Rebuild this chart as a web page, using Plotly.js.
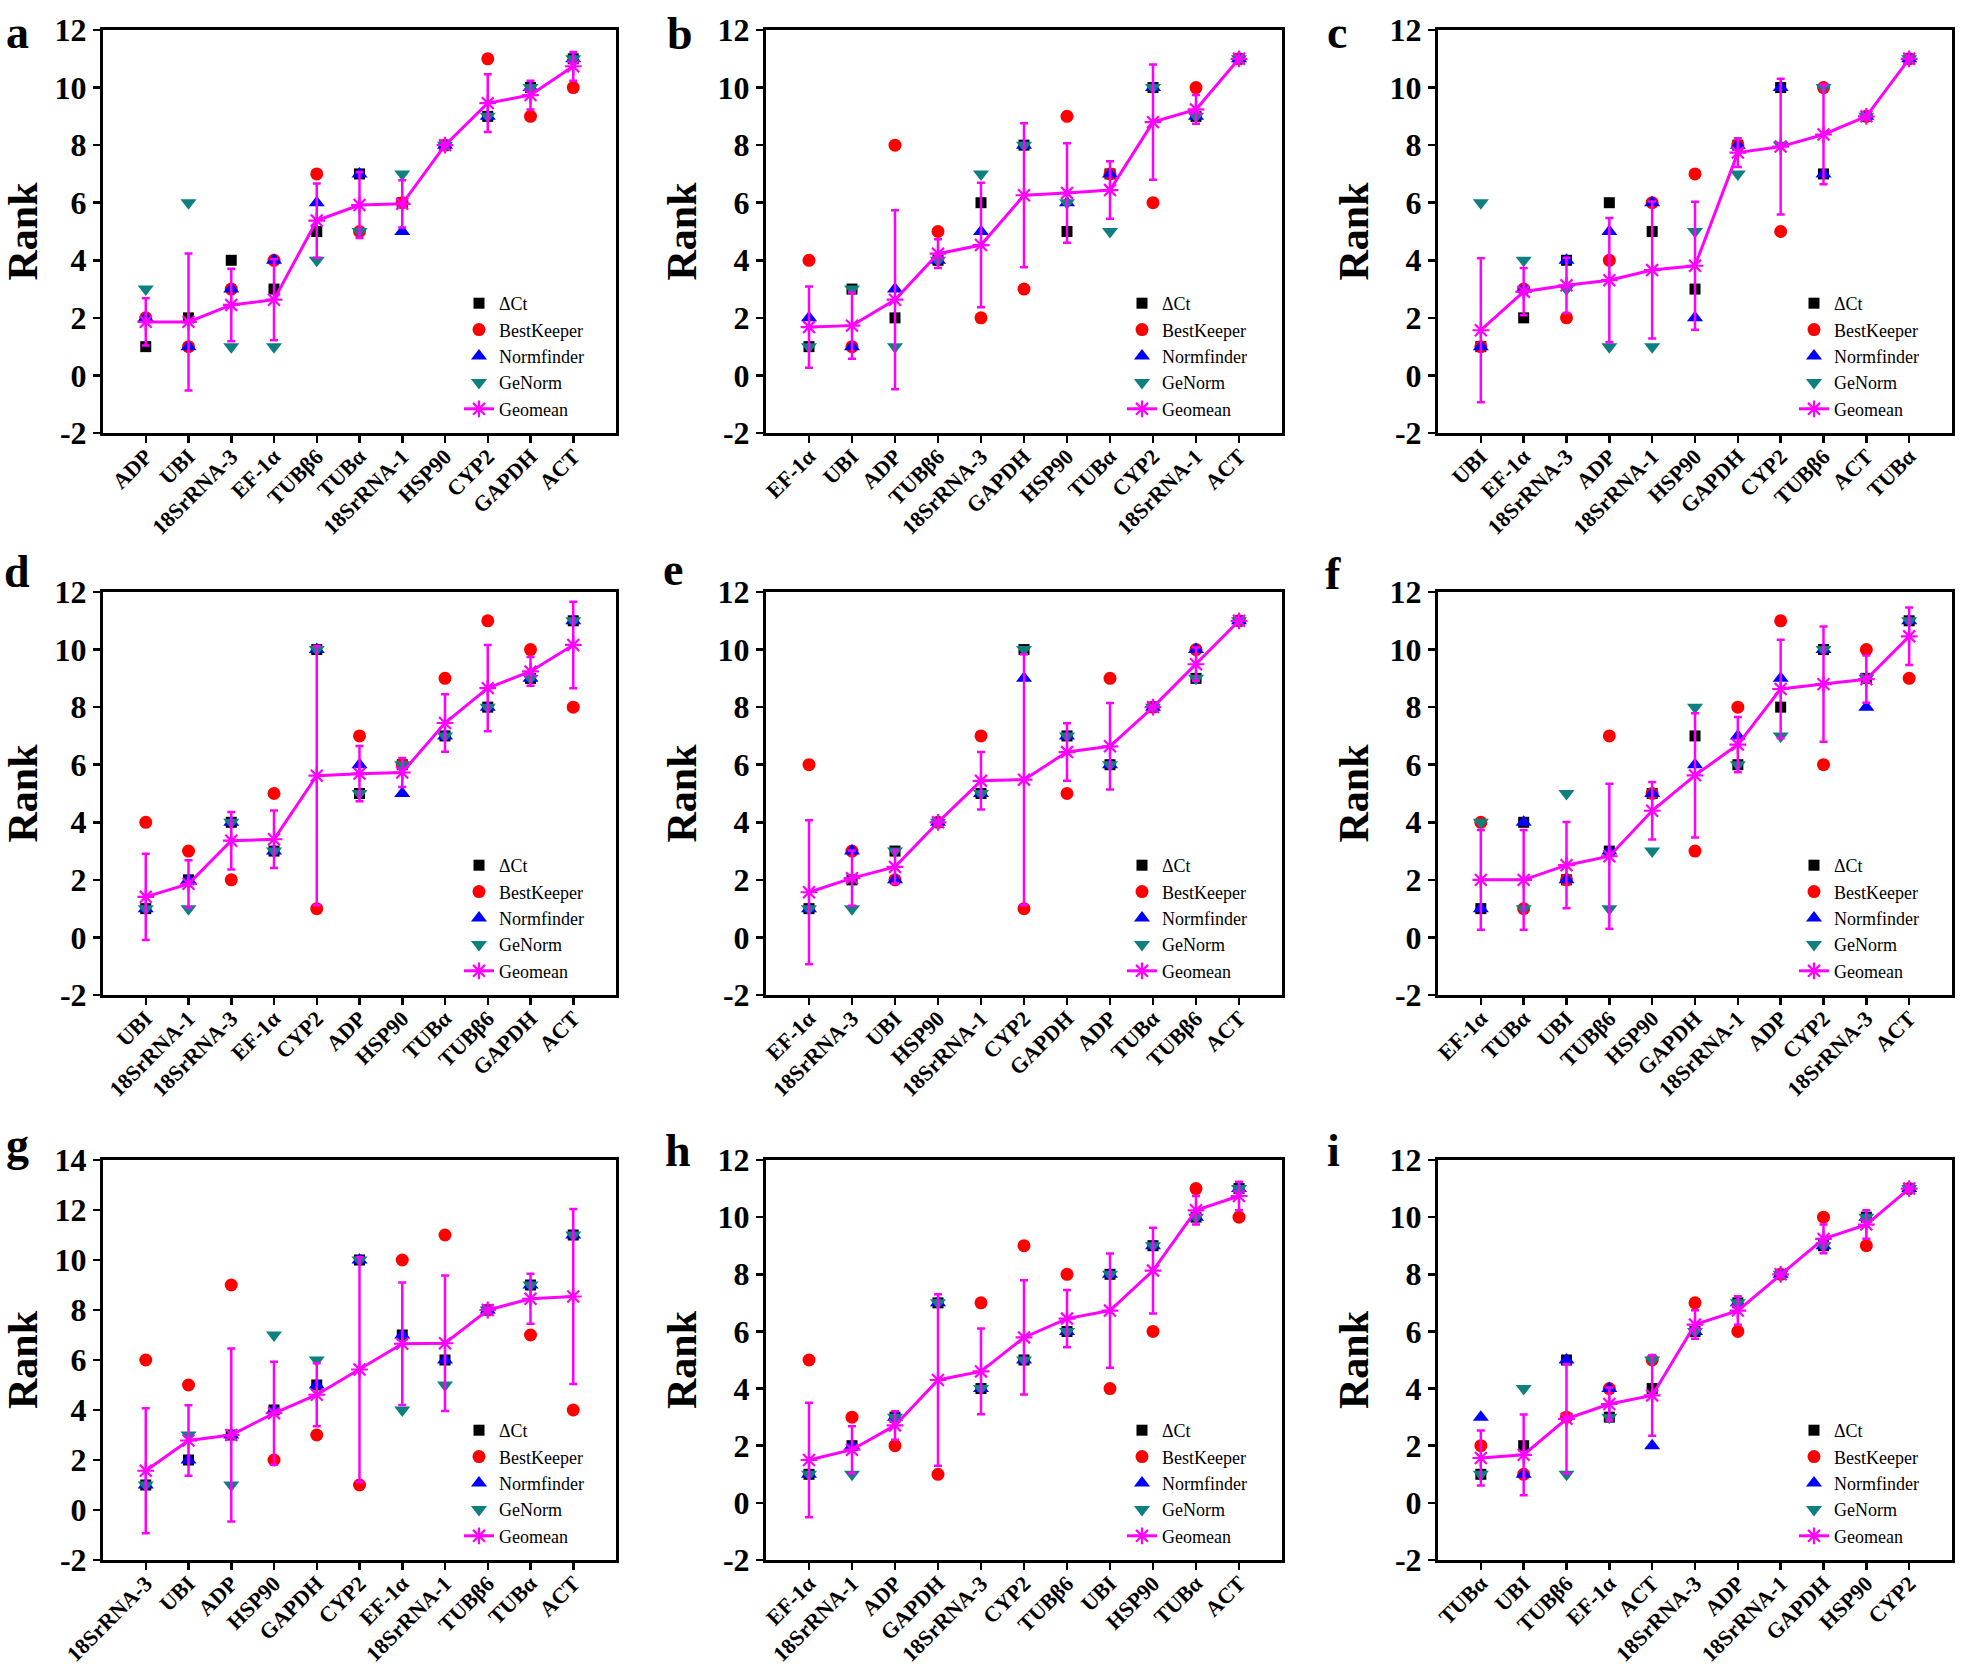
<!DOCTYPE html>
<html>
<head>
<meta charset="utf-8">
<script src="https://cdn.plot.ly/plotly-3.0.1.min.js"></script>
<style>html,body{margin:0;padding:0;background:#fff;}#chart{width:1961px;height:1675px;}</style>
</head>
<body>
<div id="chart"></div>
<script>
// ---------- data (ranks) ----------
const seriesNames = ['ΔCt', 'BestKeeper', 'Normfinder', 'GeNorm', 'Geomean'];

const yTickVals12 = [-2,0,2,4,6,8,10,12];
const yTickText12 = ['-2','0','2','4','6','8','10','12'];
const yTickVals14 = [-2,0,2,4,6,8,10,12,14];
const yTickText14 = ['-2','0','2','4','6','8','10','12','14'];

const cats_a = ['ADP','UBI','18SrRNA-3','EF-1α','TUBβ6','TUBα','18SrRNA-1','HSP90','CYP2','GAPDH','ACT'];
const dct_a = [1,2,4,3,5,7,6,8,9,10,11];
const bk_a  = [2,1,3,4,7,5,6,8,11,9,10];
const nf_a  = [2,1,3,4,6,7,5,8,9,10,11];
const gn_a  = [3,6,1,1,4,5,7,8,9,10,11];
const geo_a = [1.86,1.86,2.45,2.63,5.38,5.92,5.96,8,9.46,9.74,10.74];
const sd_a  = [0.82,2.38,1.26,1.41,1.29,1.15,0.82,0,1.0,0.5,0.5];

const cats_b = ['EF-1α','UBI','ADP','TUBβ6','18SrRNA-3','GAPDH','HSP90','TUBα','CYP2','18SrRNA-1','ACT'];
const dct_b = [1,3,2,4,6,8,5,7,10,9,11];
const bk_b  = [4,1,8,5,2,3,9,7,6,10,11];
const nf_b  = [2,1,3,4,5,8,6,7,10,9,11];
const gn_b  = [1,3,1,4,7,8,6,5,10,9,11];
const geo_b = [1.68,1.73,2.63,4.23,4.53,6.26,6.34,6.44,8.80,9.24,11];
const sd_b  = [1.41,1.15,3.11,0.5,2.16,2.5,1.73,1.0,2.0,0.5,0];

const cats_c = ['UBI','EF-1α','18SrRNA-3','ADP','18SrRNA-1','HSP90','GAPDH','CYP2','TUBβ6','ACT','TUBα'];
const dct_c = [1,2,4,6,5,3,8,10,7,9,11];
const bk_c  = [1,3,2,4,6,7,8,5,10,9,11];
const nf_c  = [1,3,4,5,6,2,8,10,7,9,11];
const gn_c  = [6,4,3,1,1,5,7,8,10,9,11];
const geo_c = [1.57,2.91,3.13,3.31,3.66,3.81,7.74,7.95,8.37,9,11];
const sd_c  = [2.5,0.82,0.96,2.16,2.38,2.22,0.5,2.36,1.73,0,0];

const cats_d = ['UBI','18SrRNA-1','18SrRNA-3','EF-1α','CYP2','ADP','HSP90','TUBα','TUBβ6','GAPDH','ACT'];
const dct_d = [1,2,4,3,10,5,6,7,8,9,11];
const bk_d  = [4,3,2,5,1,7,6,9,11,10,8];
const nf_d  = [1,2,4,3,10,6,5,7,8,9,11];
const gn_d  = [1,1,4,3,10,5,6,7,8,9,11];
const geo_d = [1.41,1.86,3.36,3.41,5.62,5.69,5.73,7.45,8.66,9.24,10.16];
const sd_d  = [1.5,0.82,1.0,1.0,4.5,0.96,0.5,1.0,1.5,0.5,1.5];

const cats_e = ['EF-1α','18SrRNA-3','UBI','HSP90','18SrRNA-1','CYP2','GAPDH','ADP','TUBα','TUBβ6','ACT'];
const dct_e = [1,2,3,4,5,10,7,6,8,9,11];
const bk_e  = [6,3,2,4,7,1,5,9,8,10,11];
const nf_e  = [1,3,2,4,5,9,7,6,8,10,11];
const gn_e  = [1,1,3,4,5,10,7,6,8,9,11];
const geo_e = [1.57,2.06,2.45,4,5.44,5.48,6.44,6.64,8,9.49,11];
const sd_e  = [2.5,0.96,0.58,0,1.0,4.36,1.0,1.5,0,0.58,0];

const cats_f = ['EF-1α','TUBα','UBI','TUBβ6','HSP90','GAPDH','18SrRNA-1','ADP','CYP2','18SrRNA-3','ACT'];
const dct_f = [1,4,2,3,5,7,6,8,10,9,11];
const bk_f  = [4,1,2,7,5,3,8,11,6,10,9];
const nf_f  = [1,4,2,3,5,6,7,9,10,8,11];
const gn_f  = [4,1,5,1,3,8,6,7,10,9,11];
const geo_f = [2,2,2.51,2.82,4.40,5.63,6.70,8.63,8.80,8.97,10.46];
const sd_f  = [1.73,1.73,1.5,2.52,1.0,2.16,0.96,1.71,2.0,0.82,1.0];

const cats_g = ['18SrRNA-3','UBI','ADP','HSP90','GAPDH','CYP2','EF-1α','18SrRNA-1','TUBβ6','TUBα','ACT'];
const dct_g = [1,2,3,4,5,10,7,6,8,9,11];
const bk_g  = [6,5,9,2,3,1,10,11,8,7,4];
const nf_g  = [1,2,3,4,5,10,7,6,8,9,11];
const gn_g  = [1,3,1,7,6,10,4,5,8,9,11];
const geo_g = [1.57,2.78,3,3.87,4.61,5.62,6.65,6.67,8,8.45,8.54];
const sd_g  = [2.5,1.41,3.46,2.06,1.26,4.5,2.45,2.71,0,1.0,3.5];

const cats_h = ['EF-1α','18SrRNA-1','ADP','GAPDH','18SrRNA-3','CYP2','TUBβ6','UBI','HSP90','TUBα','ACT'];
const dct_h = [1,2,3,7,4,5,6,8,9,10,11];
const bk_h  = [5,3,2,1,7,9,8,4,6,11,10];
const nf_h  = [1,2,3,7,4,5,6,8,9,10,11];
const gn_h  = [1,1,3,7,4,5,6,8,9,10,11];
const geo_h = [1.50,1.86,2.71,4.30,4.60,5.79,6.45,6.73,8.13,10.24,10.74];
const sd_h  = [2,0.82,0.5,3,1.5,2,1,2,1.5,0.5,0.5];

const cats_i = ['TUBα','UBI','TUBβ6','EF-1α','ACT','18SrRNA-3','ADP','18SrRNA-1','GAPDH','HSP90','CYP2'];
const dct_i = [1,2,5,3,4,6,7,8,9,10,11];
const bk_i  = [2,1,3,4,5,7,6,8,10,9,11];
const nf_i  = [3,1,5,4,2,6,7,8,9,10,11];
const gn_i  = [1,4,1,3,5,6,7,8,9,10,11];
const geo_i = [1.57,1.68,2.94,3.46,3.76,6.24,6.73,8,9.24,9.74,11];
const sd_i  = [0.96,1.41,1.91,0.58,1.41,0.5,0.5,0,0.5,0.5,0];

const panelLetters = ['a','b','c','d','e','f','g','h','i'];
const yMax = [12,12,12,12,12,12,14,12,12];

const panels = [
  [cats_a,dct_a,bk_a,nf_a,gn_a,geo_a,sd_a],
  [cats_b,dct_b,bk_b,nf_b,gn_b,geo_b,sd_b],
  [cats_c,dct_c,bk_c,nf_c,gn_c,geo_c,sd_c],
  [cats_d,dct_d,bk_d,nf_d,gn_d,geo_d,sd_d],
  [cats_e,dct_e,bk_e,nf_e,gn_e,geo_e,sd_e],
  [cats_f,dct_f,bk_f,nf_f,gn_f,geo_f,sd_f],
  [cats_g,dct_g,bk_g,nf_g,gn_g,geo_g,sd_g],
  [cats_h,dct_h,bk_h,nf_h,gn_h,geo_h,sd_h],
  [cats_i,dct_i,bk_i,nf_i,gn_i,geo_i,sd_i]
];

// ---------- layout geometry (pixels) ----------
const W = 1961, H = 1675;
const colX = [[103,616],[766,1282],[1438,1952]];
const rowY = [[30,433],[592,995],[1160,1560]];
const letterPos = [[4,32],[665,33],[1325,32],[2,572],[661,569],[1323,573],[4,1144],[663,1150],[1325,1150]];

const FONT = 'Liberation Serif, Times New Roman, serif';
const MAG = '#FF00FF';
const styles = [
  {symbol:'square', color:'#000000', size:11},
  {symbol:'circle', color:'#FF0000', size:13},
  {symbol:'triangle-up', color:'#0000FF', size:14},
  {symbol:'triangle-down', color:'#0E8080', size:14}
];

const traces = [];
const layout = {
  width: W, height: H,
  margin: {l:0, r:0, t:0, b:0},
  paper_bgcolor: '#ffffff', plot_bgcolor: '#ffffff',
  font: {family: FONT, color: '#000'},
  showlegend: true,
  annotations: []
};

panels.forEach((p, k) => {
  const [cats, dct, bk, nf, gn, geo, sd] = p;
  const n = k + 1;
  const xa = n === 1 ? 'x' : 'x' + n;
  const ya = n === 1 ? 'y' : 'y' + n;
  const lg = n === 1 ? 'legend' : 'legend' + n;
  const col = k % 3, row = Math.floor(k / 3);
  const [x0, x1] = colX[col];
  const [y0, y1] = rowY[row];

  [dct, bk, nf, gn].forEach((vals, s) => {
    traces.push({
      type: 'scatter', mode: 'markers',
      x: cats, y: vals, xaxis: xa, yaxis: ya,
      name: seriesNames[s], legend: lg,
      marker: {symbol: styles[s].symbol, color: styles[s].color, size: styles[s].size, line: {width: 0}},
      hoverinfo: 'skip'
    });
  });
  traces.push({
    type: 'scatter', mode: 'lines+markers',
    x: cats, y: geo, xaxis: xa, yaxis: ya,
    name: seriesNames[4], legend: lg,
    line: {color: MAG, width: 3},
    marker: {symbol: 'asterisk-open', size: 14, color: MAG, line: {color: MAG, width: 2.2}},
    error_y: {type: 'data', array: sd, visible: true, color: MAG, thickness: 2.5, width: 4},
    hoverinfo: 'skip'
  });

  const xKey = n === 1 ? 'xaxis' : 'xaxis' + n;
  const yKey = n === 1 ? 'yaxis' : 'yaxis' + n;
  layout[xKey] = {
    domain: [x0 / W, x1 / W], anchor: ya,
    type: 'category', range: [-1, 11],
    showline: true, linecolor: '#000', linewidth: 3, mirror: true,
    ticks: 'outside', ticklen: 7, tickwidth: 2.5, tickcolor: '#000',
    tickangle: -45, ticklabelstandoff: -8, showgrid: false, zeroline: false,
    tickfont: {family: FONT, size: 22, weight: 'bold', color: '#000'}
  };
  layout[yKey] = {
    domain: [1 - y1 / H, 1 - y0 / H], anchor: xa,
    range: [-2, yMax[k]],
    tickmode: 'array',
    tickvals: yMax[k] === 14 ? yTickVals14 : yTickVals12,
    ticktext: yMax[k] === 14 ? yTickText14 : yTickText12,
    showline: true, linecolor: '#000', linewidth: 3, mirror: true,
    ticks: 'outside', ticklen: 7, tickwidth: 2.5, tickcolor: '#000',
    showgrid: false, zeroline: false,
    tickfont: {family: FONT, size: 32, weight: 'bold', color: '#000'},
    title: {text: 'Rank', font: {family: FONT, size: 42, weight: 'bold', color: '#000'}, standoff: 8}
  };
  layout[lg] = {
    x: (x0 + 356) / W, xanchor: 'left',
    y: 1 - (y1 - 6) / H, yanchor: 'bottom',
    bgcolor: 'rgba(0,0,0,0)', borderwidth: 0,
    font: {family: FONT, size: 18, color: '#000'},
    tracegroupgap: 0
  };
  layout.annotations.push({
    text: panelLetters[k], xref: 'paper', yref: 'paper',
    x: letterPos[k][0] / W, y: 1 - letterPos[k][1] / H,
    xanchor: 'left', yanchor: 'middle', showarrow: false,
    font: {family: FONT, size: 46, weight: 'bold', color: '#000'}
  });
});

Plotly.newPlot('chart', traces, layout, {displayModeBar: false, staticPlot: true});
</script>
</body>
</html>
